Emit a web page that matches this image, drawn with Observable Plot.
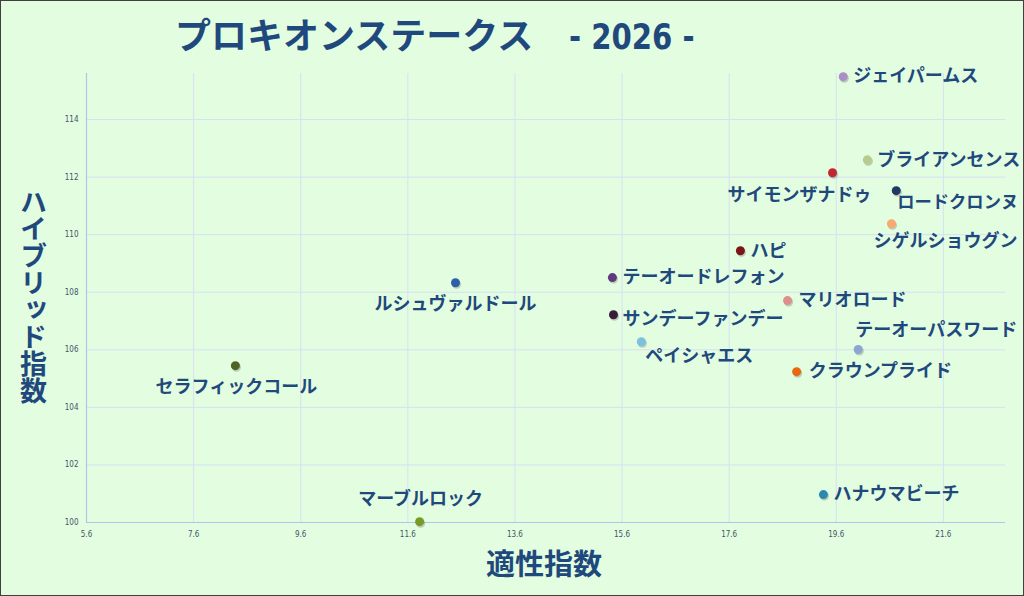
<!DOCTYPE html>
<html>
<head>
<meta charset="utf-8">
<script src="https://cdn.jsdelivr.net/npm/d3@7"></script>
<script src="https://cdn.jsdelivr.net/npm/@observablehq/plot@0.6"></script>
<style>
  html, body { margin: 0; padding: 0; background: #E3FDE0; }
  #wrap { position: relative; width: 1024px; height: 596px; background: #E3FDE0; overflow: hidden; }
  #frame { position: absolute; left: 0; top: 0; width: 1024px; height: 596px; box-sizing: border-box; border: 1.5px solid #404040; pointer-events: none; }
  .ttl { position: absolute; color: #1F497D; font-weight: 700; font-family: "Noto Sans CJK JP", sans-serif; white-space: nowrap; }
  #title { left: 175px; top: 8px; font-size: 36px; line-height: 50px; }
  #title .yr { display: inline-block; font-family: "DejaVu Sans Condensed", "Liberation Sans Narrow", sans-serif; margin-left: 36px; transform: scaleX(0.9); transform-origin: left center; }
  #ytitle { left: 18px; top: 188px; font-size: 27px; writing-mode: vertical-rl; text-orientation: upright; line-height: 30px; }
  #xtitle { left: 486px; top: 541px; font-size: 29px; line-height: 42px; }
  svg { position: absolute; left: 0; top: 0; }
</style>
</head>
<body>
<div id="wrap">
  <div id="chart"></div>
  <div id="title" class="ttl">プロキオンステークス<span class="yr">- 2026 -</span></div>
  <div id="ytitle" class="ttl">ハイブリッド指数</div>
  <div id="xtitle" class="ttl">適性指数</div>
  <div id="frame"></div>
</div>
<script>
// ---- data ----
const names = ["ジェイパームス","ブライアンセンス","サイモンザナドゥ","ロードクロンヌ","シゲルショウグン","ハピ","テーオードレフォン","ルシュヴァルドール","マリオロード","サンデーファンデー","テーオーパスワード","ペイシャエス","クラウンプライド","セラフィックコール","ハナウマビーチ","マーブルロック"];
const tekisei = [19.73, 20.18, 19.53, 20.72, 20.63, 17.81, 15.42, 12.49, 18.69, 15.44, 20.01, 15.96, 18.86, 8.38, 19.36, 11.82];
const hybrid  = [115.49, 112.60, 112.15, 111.53, 110.38, 109.44, 108.51, 108.33, 107.71, 107.22, 106.01, 106.28, 105.24, 105.45, 100.97, 100.03];
const colors  = ["#A98FC6","#B7CB8C","#C0282D","#1F3864","#F8A870","#7A1518","#60397F","#2E5FA8","#E08E8D","#3B1D3B","#8EA4D3","#7EC1DF","#E8690F","#4F6228","#2A89B0","#7A9A28"];
const xTicks = [5.6, 7.6, 9.6, 11.6, 13.6, 15.6, 17.6, 19.6, 21.6];
const yTicks = [100, 102, 104, 106, 108, 110, 112, 114];

// label placement (anchor, dx, dy in px)
const labelLayout = {
  "ジェイパームス": ["start", 10, 0],
  "ブライアンセンス": ["start", 10, 0],
  "サイモンザナドゥ": ["middle", -33, 22],
  "ロードクロンヌ": ["start", 1, 12],
  "シゲルショウグン": ["middle", 54, 17],
  "ハピ": ["start", 10, 0],
  "テーオードレフォン": ["start", 10, 0],
  "ルシュヴァルドール": ["middle", 0, 21],
  "マリオロード": ["start", 11, 0],
  "サンデーファンデー": ["start", 9, 5],
  "テーオーパスワード": ["middle", 78, -19],
  "ペイシャエス": ["start", 4, 14],
  "クラウンプライド": ["start", 12, 0],
  "セラフィックコール": ["middle", 1, 22],
  "ハナウマビーチ": ["start", 10, 0],
  "マーブルロック": ["middle", 1, -22]
};

const data = names.map((n, i) => ({name: n, x: tekisei[i], y: hybrid[i], color: colors[i]}));

const labelMarks = data.map(d => {
  const [anchor, dx, dy] = labelLayout[d.name];
  return Plot.text([d], {
    x: "x", y: "y", text: "name",
    textAnchor: anchor, dx, dy,
    fill: "#1F497D", fontSize: d.name === "ロードクロンヌ" ? 17.3 : 18, fontWeight: 700,
    fontFamily: "Noto Sans CJK JP, sans-serif"
  });
});

const chart = Plot.plot({
  width: 1024,
  height: 596,
  marginLeft: 86,
  marginRight: 19,
  marginTop: 73,
  marginBottom: 74,
  style: {background: "transparent", fontFamily: "Liberation Sans Narrow, DejaVu Sans Condensed, sans-serif"},
  x: {domain: [5.6, 22.76], label: null},
  y: {domain: [100, 115.6], label: null},
  color: {type: "identity"},
  marks: [
    Plot.gridX(xTicks, {stroke: "#D6E0F5", strokeOpacity: 1}),
    Plot.gridY(yTicks, {stroke: "#D6E0F5", strokeOpacity: 1}),
    Plot.ruleX([5.6], {stroke: "#AFC6EC", strokeWidth: 1.2}),
    Plot.ruleY([100], {stroke: "#AFC6EC", strokeWidth: 1.2}),
    Plot.axisX(xTicks, {tickSize: 0, tickPadding: 9, fontSize: 8, fill: "#44546A", label: null, tickFormat: d => d.toFixed(1)}),
    Plot.axisY(yTicks, {tickSize: 0, tickPadding: 8, fontSize: 8, fill: "#44546A", label: null}),
    Plot.dot(data, {x: "x", y: "y", r: 4.6, fill: "#000", fillOpacity: 0.18, dx: 1, dy: 1.5}),
    Plot.dot(data, {x: "x", y: "y", r: 4.5, fill: "color"}),
    ...labelMarks
  ]
});
document.getElementById("chart").appendChild(chart);
</script>
</body>
</html>
